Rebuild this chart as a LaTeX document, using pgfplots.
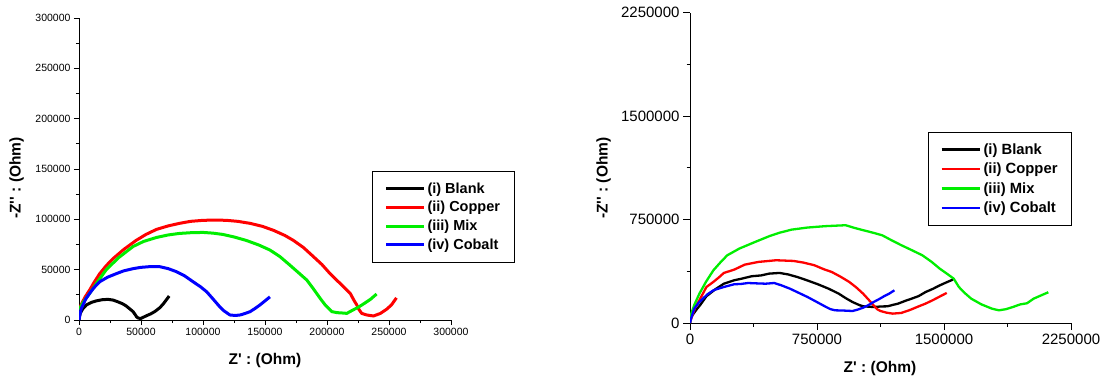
\documentclass[border=0pt]{standalone}
\usepackage{fontspec}
\setmainfont{Liberation Sans}
\newfontfamily\arial{Liberation Sans}
\usepackage{pgfplots}
\pgfplotsset{compat=1.18}
\definecolor{cgreen}{RGB}{0,238,0}
\definecolor{cred}{RGB}{255,0,0}
\definecolor{cblue}{RGB}{0,0,255}
\begin{document}
\begin{tikzpicture}[x=1pt,y=1pt]
\path[use as bounding box] (0,0) rectangle (1107,383);
% ---------------- left plot ----------------
\begin{axis}[
  at={(79pt,63pt)}, anchor=south west, scale only axis,
  width=372pt, height=302pt,
  xmin=0, xmax=300000, ymin=0, ymax=300000,
  axis lines*=left, axis line style={-, line width=0.9pt},
  tick align=outside, major tick length=5pt, minor tick length=3pt,
  tick style={black, line width=0.8pt},
  scaled ticks=false,
  xtick={0,50000,100000,150000,200000,250000,300000},
  xticklabels={0,50000,100000,150000,200000,250000,300000},
  ytick={0,50000,100000,150000,200000,250000,300000},
  yticklabels={0,50000,100000,150000,200000,250000,300000},
  minor x tick num=1, minor y tick num=1,
  ticklabel style={font=\arial\fontsize{10.5}{12}\selectfont},
  xlabel={\arial\bfseries Z\textquotesingle\ : (Ohm)},
  ylabel={\arial\bfseries -Z\textquotesingle\textquotesingle\ : (Ohm)},
  label style={font=\arial\bfseries\fontsize{15.5}{17}\selectfont},
  xlabel style={at={(axis description cs:0.5,-0.1325)}, anchor=center},
  ylabel style={at={(axis description cs:-0.168,0.47)}, anchor=center},
  every axis plot/.append style={line width=3pt},
  legend image code/.code={\draw[#1, line width=3pt] (0pt,0pt) -- (38pt,0pt);},
  legend style={at={(axis description cs:0.788,0.493)}, anchor=north west,
    draw=black, line width=0.8pt, inner xsep=12pt, inner ysep=9pt, row sep=2.8pt,
    font=\arial\bfseries\fontsize{14.5}{14}\selectfont, cells={anchor=west}},
]
\addplot[black] coordinates {(0,0) (300,3000) (1000,6600) (3000,11000) (6000,15000) (10000,17500) (14000,19000) (19000,20200) (23400,20500) (27500,19800) (31500,18000) (35000,16200) (38000,14000) (41000,11000) (43600,8300) (45500,5000) (46500,3000) (48000,1800) (50000,1600) (54000,4000) (58000,6200) (61000,8300) (65000,12000) (68000,16000) (72700,23800)};
\addlegendentry{(i) Blank}
\addplot[cred] coordinates {(0,10000) (2000,16000) (5000,23000) (8600,29800) (12000,37000) (16700,46000) (22000,54000) (27500,61000) (36000,70000) (46000,79000) (54000,85000) (62500,90000) (72000,93500) (81000,96000) (90000,98000) (100000,99000) (110000,99300) (119000,99000) (128000,98000) (138000,96000) (148000,93000) (157000,89000) (166000,84000) (173000,79000) (181000,72000) (189000,63000) (196000,55000) (202500,46000) (210000,37000) (218700,26500) (222000,19000) (224000,15000) (226000,10000) (228000,6600) (232000,5000) (237500,4000) (243000,6500) (248000,10600) (252000,15000) (256000,22000)};
\addlegendentry{(ii) Copper}
\addplot[cgreen] coordinates {(0,10000) (3000,17000) (8600,26500) (15000,38000) (22000,50000) (32000,62000) (43600,73000) (52000,78000) (62500,82000) (72000,84500) (81000,86000) (90000,86700) (100000,87000) (108000,86300) (116000,85000) (125000,82500) (135000,79000) (145000,74500) (154000,69500) (162000,63000) (170000,54600) (177000,47000) (183700,39700) (189000,31000) (194500,21500) (198500,15000) (204000,8300) (208000,7300) (212000,7000) (216000,6600) (221000,10000) (225000,12500) (229500,16000) (235000,20500) (240000,25800)};
\addlegendentry{(iii) Mix}
\addplot[cblue] coordinates {(0,0) (1000,7000) (1900,11600) (3200,15000) (5500,21000) (8600,26500) (12000,32000) (16700,38000) (23000,42500) (30000,46000) (36000,48800) (43600,51000) (50000,52300) (57000,53000) (65000,53000) (72000,51000) (78600,48000) (85000,44000) (92000,38000) (98000,33000) (103000,28000) (108000,21000) (113600,13000) (117000,9000) (121700,5000) (126000,4500) (130000,5000) (134000,6500) (138000,8300) (142000,11500) (146000,15000) (150000,19000) (154000,23000)};
\addlegendentry{(iv) Cobalt}
\end{axis}
% ---------------- right plot ----------------
\begin{axis}[
  at={(690pt,60pt)}, anchor=south west, scale only axis,
  width=381pt, height=310.3pt,
  xmin=0, xmax=2250000, ymin=0, ymax=2250000,
  axis lines*=left, axis line style={-, line width=0.9pt},
  tick align=outside, major tick length=7pt, minor tick length=3.5pt,
  tick style={black, line width=0.8pt},
  scaled ticks=false,
  xtick={0,750000,1500000,2250000},
  xticklabels={0,750000,1500000,2250000},
  ytick={0,750000,1500000,2250000},
  yticklabels={0,750000,1500000,2250000},
  minor x tick num=1, minor y tick num=1,
  ticklabel style={font=\arial\fontsize{15}{16}\selectfont},
  xlabel={\arial\bfseries Z\textquotesingle\ : (Ohm)},
  ylabel={\arial\bfseries -Z\textquotesingle\textquotesingle\ : (Ohm)},
  label style={font=\arial\bfseries\fontsize{15.5}{17}\selectfont},
  xlabel style={at={(axis description cs:0.4987,-0.146)}, anchor=center},
  ylabel style={at={(axis description cs:-0.227,0.467)}, anchor=center},
  every axis plot/.append style={line width=2.3pt},
  legend image code/.code={\draw[#1, line width=2.6pt] (0pt,0pt) -- (38.5pt,0pt);},
  legend style={at={(axis description cs:0.6247,0.6165)}, anchor=north west,
    draw=black, line width=0.8pt, inner xsep=12pt, inner ysep=9.5pt, row sep=3.2pt,
    font=\arial\bfseries\fontsize{14.8}{14}\selectfont, cells={anchor=west}},
]
\addplot[black] coordinates {(0,0) (4000,31000) (14000,56000) (40000,100000) (60000,130000) (97000,194000) (150000,245000) (200000,285000) (261000,310000) (300000,320000) (364000,339000) (420000,345000) (467000,358000) (529000,363000) (580000,352000) (632000,334000) (690000,310000) (755000,281000) (820000,248000) (878000,213000) (920000,180000) (960000,152000) (1000000,130000) (1022000,121000) (1084000,116000) (1130000,120000) (1166000,121000) (1200000,132000) (1228000,140000) (1270000,160000) (1310000,177000) (1350000,195000) (1392000,225000) (1435000,248000) (1475000,273000) (1515000,295000) (1553000,315000)};
\addlegendentry{(i) Blank}
\addplot[cred] coordinates {(0,0) (4000,19000) (14000,56000) (30000,110000) (55000,165000) (97000,261000) (138000,298000) (170000,330000) (200000,363000) (261000,387000) (323000,423000) (405000,443000) (508000,455000) (611000,450000) (670000,438000) (734000,419000) (790000,390000) (837000,370000) (890000,335000) (940000,298000) (980000,260000) (1022000,213000) (1054000,170000) (1084000,128000) (1105000,100000) (1125000,87000) (1160000,75000) (1197000,68000) (1248000,73000) (1300000,95000) (1351000,121000) (1390000,140000) (1433000,165000) (1475000,192000) (1516000,218000)};
\addlegendentry{(ii) Copper}
\addplot[cgreen] coordinates {(0,0) (4000,56000) (25000,130000) (55500,213000) (95000,300000) (138000,382000) (180000,440000) (220000,491000) (292000,540000) (385000,588000) (467000,629000) (530000,655000) (600000,677000) (693000,692000) (796000,702000) (919000,709000) (970000,690000) (1022000,673000) (1080000,655000) (1135000,636000) (1190000,600000) (1248000,564000) (1310000,528000) (1372000,491000) (1425000,445000) (1475000,394000) (1520000,355000) (1557000,322000) (1588000,261000) (1620000,220000) (1660000,177000) (1721000,135000) (1783000,104000) (1824000,92000) (1865000,100000) (1907000,116000) (1950000,135000) (1990000,143000) (2030000,177000) (2116000,223000)};
\addlegendentry{(iii) Mix}
\addplot[cblue] coordinates {(0,0) (6000,31000) (25000,104000) (50000,145000) (76000,177000) (105000,210000) (138000,237000) (170000,250000) (200000,261000) (261000,281000) (300000,283000) (343000,290000) (400000,287000) (446000,285000) (498000,290000) (540000,273000) (590000,249000) (640000,220000) (693000,189000) (745000,155000) (796000,121000) (830000,100000) (858000,92000) (910000,90000) (960000,87000) (990000,97000) (1022000,111000) (1054000,130000) (1084000,152000) (1115000,172000) (1146000,194000) (1175000,212000) (1207000,237000)};
\addlegendentry{(iv) Cobalt}
\end{axis}
\end{tikzpicture}
\end{document}
